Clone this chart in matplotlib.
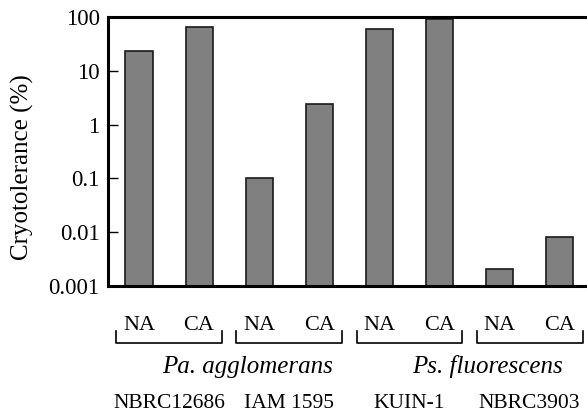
import numpy as np
import matplotlib
matplotlib.use("Agg")
import matplotlib.pyplot as plt
import matplotlib.transforms as mtransforms

# Cryotolerance of each strain grown without (NA) / with (CA) cold acclimation
conditions = ["NA", "CA"]
strains = ["NBRC12686", "IAM 1595", "KUIN-1", "NBRC3903"]
species = ["Pa. agglomerans", "Ps. fluorescens"]
cryotolerance = [23.3, 66.0, 0.1, 2.4, 59.0, 90.0, 0.0021, 0.008]
yticks = [0.001, 0.01, 0.1, 1, 10, 100]
ytick_labels = ["0.001", "0.01", "0.1", "1", "10", "100"]

W, H = 587, 413
plt.rcParams["font.family"] = ["Liberation Serif", "DejaVu Serif"]
plt.rcParams["font.size"] = 16

fig = plt.figure(figsize=(W / 100, H / 100), dpi=100)
ax = fig.add_axes([108 / W, 1 - 286 / H, 1 - 108 / W, (286 - 17) / H])

x = np.arange(len(cryotolerance))
ax.bar(x, cryotolerance, width=0.45, color="#808080",
       edgecolor="#1a1a1a", linewidth=1.2, zorder=2)

ax.set_yscale("log")
ax.set_ylim(0.001, 100)
ax.set_yticks(yticks)
ax.set_yticklabels(ytick_labels, fontsize=16.5)
ax.minorticks_off()
ax.tick_params(axis="y", direction="in", length=7, width=1.0, pad=6)
ax.set_xlim(-0.516, 7.454)
ax.set_xticks([])
ax.spines["right"].set_visible(False)
for s in ["left", "top", "bottom"]:
    ax.spines[s].set_linewidth(2.2)


def fy(py):
    return 1 - py / H


fig.text(22 / W, fy(167), "Cryotolerance (%)", rotation=90,
         ha="center", va="center", fontsize=18)

# x in data units, y in figure units for the labels under the axis
trans = mtransforms.blended_transform_factory(ax.transData, fig.transFigure)

for g, strain in enumerate(strains):
    i_na, i_ca = 2 * g, 2 * g + 1
    mid = (i_na + i_ca) / 2
    left, right = mid - 0.88, mid + 0.88
    ax.plot([left, left, right, right], [fy(331), fy(343), fy(343), fy(331)],
            color="black", linewidth=1.2, transform=trans, clip_on=False)
    ax.text(i_na, fy(325), conditions[0], ha="center", va="center",
            transform=trans)
    ax.text(i_ca, fy(325), conditions[1], ha="center", va="center",
            transform=trans)
    ax.text(mid, fy(403), strain, ha="center", va="center", fontsize=15.5,
            transform=trans)

for k, name in enumerate(species):
    ax.text(4 * k + 1.5 + 0.3, fy(367), name, ha="center", va="center",
            style="italic", fontsize=18, transform=trans)

fig.savefig("out.png", dpi=100)
